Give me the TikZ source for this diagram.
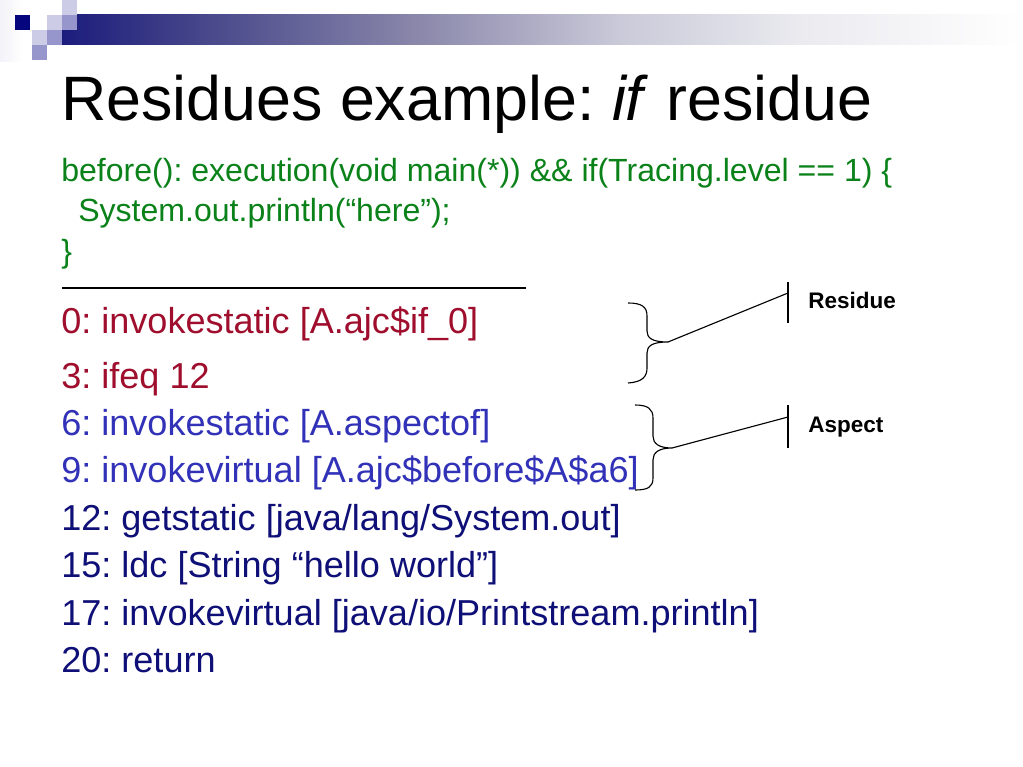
\documentclass[tikz,border=0pt]{standalone}
\usepackage{fontspec}
\setmainfont{Liberation Sans}
\frenchspacing

\definecolor{codegreen}{RGB}{10,130,25}
\definecolor{residuered}{RGB}{160,14,45}
\definecolor{aspectblue}{RGB}{50,50,185}
\definecolor{basenavy}{RGB}{15,15,120}
\definecolor{decnavy}{RGB}{5,5,125}
\definecolor{declight}{RGB}{204,204,230}
\definecolor{decmid}{RGB}{150,150,205}

% header bar, navy fading out to white
\pgfdeclarehorizontalshading{barfade}{100bp}{rgb(0bp)=(0.11,0.11,0.49); rgb(25bp)=(0.11,0.11,0.49); rgb(32bp)=(0.27,0.27,0.54); rgb(43bp)=(0.53,0.52,0.66); rgb(54bp)=(0.79,0.79,0.85); rgb(63.5bp)=(0.92,0.92,0.94); rgb(75bp)=(1,1,1); rgb(100bp)=(1,1,1)}

\begin{document}
\begin{tikzpicture}[x=0.025cm,y=-0.025cm,
		codeline/.style={anchor=base west,inner sep=0pt},
		titletext/.style={codeline,font=\fontsize{44.6}{54}\selectfont},
		pointcut/.style={codeline,codegreen,font=\fontsize{22.8}{27}\selectfont},
		bytecode/.style={codeline,font=\fontsize{25.65}{31}\selectfont},
		tagtext/.style={codeline,font=\bfseries\fontsize{16}{19}\selectfont},
		thinline/.style={line width=0.8pt}]
		\useasboundingbox (0,0) rectangle (1023,767);
		\fill [white] (0,0) rectangle (1023,767);
		% corner squares and bar
		\shade [left color=declight!25,right color=white] (0,0) rectangle (22,62);
		\shade [shading=barfade] (62,15) rectangle (1023,45);
		\fill [decnavy] (15,15) rectangle (30,30);
		\fill [declight] (47,15) rectangle (62,30);
		\fill [decmid] (62,15) rectangle (77,30);
		\fill [declight] (62,0) rectangle (77,15);
		\fill [declight] (32,30) rectangle (47,45);
		\fill [decmid] (47,30) rectangle (62,45);
		\fill [decmid] (32,45) rectangle (47,60);
		% title
		\node [titletext] (title) at (61,121) {Residues example: \textit{if} residue};
		% advice
		\node [pointcut] (pc1) at (61,182) {before(): execution(void main(*)) \&\& if(Tracing.level == 1) \{};
		\node [pointcut] (pc2) at (78,222) {System.out.println(“here”);};
		\node [pointcut] (pc3) at (61,262) {\}};
		\draw [thinline] (62,288) to (526,288);
		% bytecode
		\node [bytecode,residuered] (bc0) at (61,333) {0: invokestatic [A.ajc\$if\_0]};
		\node [bytecode,residuered] (bc3) at (61,388) {3: ifeq 12};
		\node [bytecode,aspectblue] (bc6) at (61,435) {6: invokestatic [A.aspectof]};
		\node [bytecode,aspectblue] (bc9) at (61,482.5) {9: invokevirtual [A.ajc\$before\$A\$a6]};
		\node [bytecode,basenavy] (bc12) at (61,530) {12: getstatic [java/lang/System.out]};
		\node [bytecode,basenavy] (bc15) at (61,577.5) {15: ldc [String “hello world”]};
		\node [bytecode,basenavy] (bc17) at (61,625) {17: invokevirtual [java/io/Printstream.println]};
		\node [bytecode,basenavy] (bc20) at (61,672.5) {20: return};
		% residue brace
		\coordinate (restip) at (668,342);
		\coordinate (resmark) at (788,293);
		\draw [thinline] (628,303) .. controls (642,303) and (647,307) .. (647,316) to (647,331)
			.. controls (647,338) and (652,342) .. (restip)
			.. controls (652,342) and (647,346) .. (647,353) to (647,368)
			.. controls (647,377) and (642,382) .. (628,383);
		\draw [thinline] (788,282) to (788,323);
		\draw [thinline] (restip) to (resmark);
		\node [tagtext] (residue) at (808,308) {Residue};
		% aspect brace
		\coordinate (asptip) at (672,448);
		\coordinate (aspmark) at (788,417);
		\draw [thinline] (635,405) .. controls (648,405) and (653,409) .. (653,418) to (653,436)
			.. controls (653,443) and (658,448) .. (asptip)
			.. controls (658,448) and (653,453) .. (653,460) to (653,478)
			.. controls (653,487) and (648,490) .. (635,490);
		\draw [thinline] (788,405) to (788,448);
		\draw [thinline] (asptip) to (aspmark);
		\node [tagtext] (aspect) at (808,432) {Aspect};
\end{tikzpicture}
\end{document}
